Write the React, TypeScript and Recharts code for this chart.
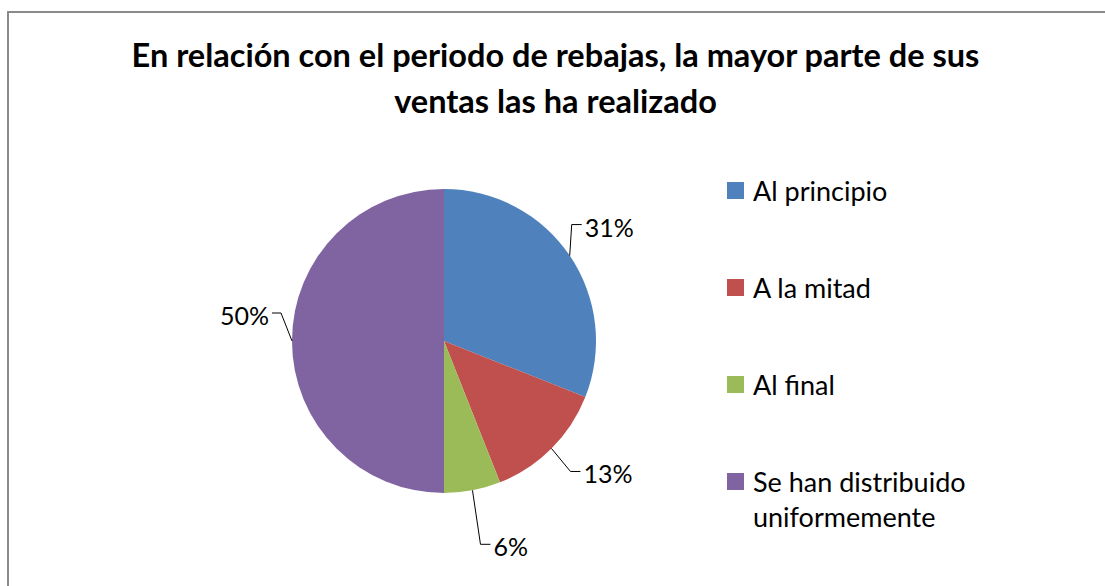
import * as React from "react";
import { PieChart, Pie, Cell, Legend } from "recharts";

const categories = [
	"Al principio",
	"A la mitad",
	"Al final",
	"Se han distribuido uniformemente",
];
const percentages = [31, 13, 6, 50];
const sliceColors = ["#4F81BD", "#C0504D", "#9BBB59", "#8064A2"];

// where each label's leader line bends, relative to the slice edge point
const labelElbows = [
	[2, -31],
	[19, 23],
	[8, 54],
	[-11, -28],
];

const titleLines = [
	"En relación con el periodo de rebajas, la mayor parte de sus",
	"ventas las ha realizado",
];

const FONT = "Lato, 'Open Sans', sans-serif";
const RADIAN = Math.PI / 180;

const data = categories.map((name, i) => ({ name, value: percentages[i] }));

function renderLabel(props: any) {
	const { cx, cy, midAngle, outerRadius, index, value } = props;
	const ax = cx + outerRadius * Math.cos(-midAngle * RADIAN);
	const ay = cy + outerRadius * Math.sin(-midAngle * RADIAN);
	const [dx, dy] = labelElbows[index];
	const ex = ax + dx;
	const ey = ay + dy;
	const right = dx >= 0;
	const tx = right ? ex + 10 : ex - 9;
	return (
		<g key={`label-${index}`}>
			<polyline
				points={`${ax},${ay} ${ex},${ey} ${tx},${ey}`}
				fill="none"
				stroke="#000"
				strokeWidth={1}
			/>
			<text
				x={right ? tx + 3 : tx - 3}
				y={ey + 12}
				textAnchor={right ? "start" : "end"}
				fontFamily={FONT}
				fontSize={25}
				fill="#000"
			>
				{`${value}%`}
			</text>
		</g>
	);
}

function renderLegend(props: any) {
	const items = [...(props.payload || [])].sort(
		(a: any, b: any) => categories.indexOf(a.value) - categories.indexOf(b.value)
	);
	return (
		<div style={{ fontFamily: FONT, fontSize: 27, color: "#000" }}>
			{items.map((entry: any, i: number) => (
				<div
					key={i}
					style={{
						display: "flex",
						alignItems: "flex-start",
						lineHeight: "35px",
						marginBottom: 62,
					}}
				>
					<span
						style={{
							display: "inline-block",
							width: 17,
							height: 17,
							marginTop: 9,
							marginRight: 9,
							background: entry.color,
							flex: "none",
						}}
					/>
					<span style={{ width: 240 }}>{entry.value}</span>
				</div>
			))}
		</div>
	);
}

export default function App() {
	return (
		<div
			style={{
				position: "absolute",
				left: 0,
				top: 0,
				width: 1105,
				height: 586,
				overflow: "hidden",
				background: "#fff",
			}}
		>
			<div
				style={{
					position: "absolute",
					left: 7,
					top: 11,
					width: 1200,
					height: 700,
					border: "2px solid #8a8a8a",
					boxSizing: "border-box",
				}}
			/>
			<div
				style={{
					position: "absolute",
					left: 0,
					top: 32,
					width: 1111,
					textAlign: "center",
					fontFamily: FONT,
					fontWeight: 700,
					fontSize: 32.5,
					lineHeight: "46px",
					color: "#000",
				}}
			>
				{titleLines.map((line, i) => (
					<div key={i}>{line}</div>
				))}
			</div>
			<div style={{ position: "absolute", left: 0, top: 0 }}>
				<PieChart
					width={1105}
					height={586}
					margin={{ top: 0, right: 0, bottom: 0, left: 0 }}
				>
					<Pie
						data={data}
						dataKey="value"
						nameKey="name"
						cx={444}
						cy={341}
						outerRadius={152}
						startAngle={90}
						endAngle={-270}
						stroke="none"
						label={renderLabel}
						labelLine={false}
						isAnimationActive={false}
					>
						{data.map((entry, i) => (
							<Cell key={`cell-${i}`} fill={sliceColors[i]} />
						))}
					</Pie>
					<Legend
						layout="vertical"
						align="right"
						verticalAlign="top"
						content={renderLegend}
						wrapperStyle={{ left: 727, top: 173, width: 300, right: "auto" }}
					/>
				</PieChart>
			</div>
		</div>
	);
}
